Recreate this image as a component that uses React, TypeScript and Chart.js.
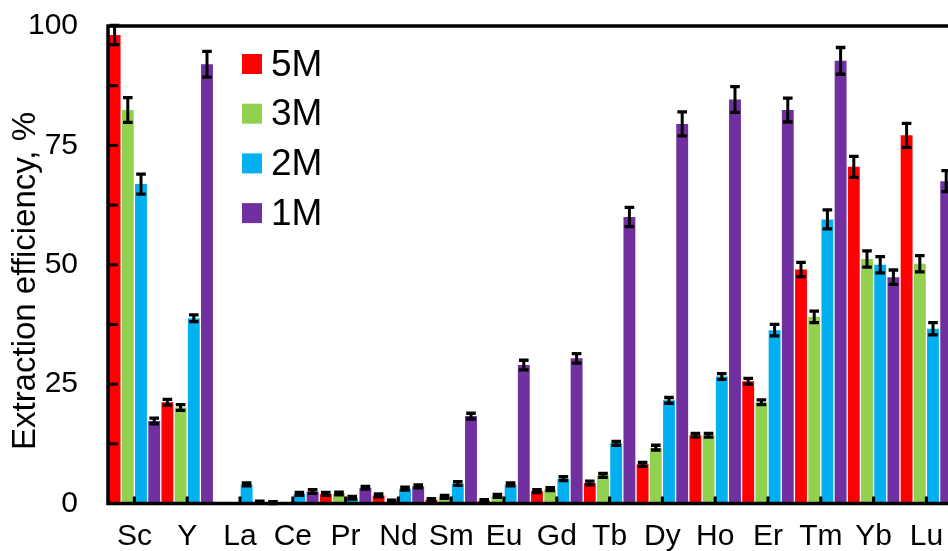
import React, { useEffect, useRef } from 'react';
import { Chart, registerables } from 'chart.js';

Chart.register(...registerables);

const categories = ['Sc', 'Y', 'La', 'Ce', 'Pr', 'Nd', 'Sm', 'Eu', 'Gd', 'Tb', 'Dy', 'Ho', 'Er', 'Tm', 'Yb', 'Lu'];
const seriesNames = ['5M', '3M', '2M', '1M'];
const seriesColors = ['#FF0000', '#92D050', '#00B0F0', '#7030A0'];

const values5M = [98.1, 21.2, 0, 0.2, 2.0, 1.7, 0.8, 0.6, 2.6, 4.3, 8.2, 14.3, 25.6, 49.0, 70.5, 77.1];
const values3M = [82.4, 20.1, 0, 0, 2.1, 0.4, 1.4, 1.6, 3.0, 5.9, 11.7, 14.3, 21.2, 39.1, 51.2, 50.2];
const values2M = [66.9, 38.8, 4.0, 2.0, 1.2, 3.1, 4.2, 4.0, 5.2, 12.6, 21.6, 26.6, 36.3, 59.5, 50.0, 36.6];
const values1M = [17.3, 92.0, 0.3, 2.5, 3.3, 3.6, 18.3, 29.0, 30.4, 60.0, 79.5, 84.6, 82.4, 92.7, 47.4, 67.5];

const errors5M = [2.0, 0.6, 0, 0.2, 0.3, 0.3, 0.2, 0.2, 0.3, 0.4, 0.4, 0.4, 0.6, 1.5, 2.2, 2.5];
const errors3M = [2.6, 0.6, 0, 0, 0.3, 0.3, 0.3, 0.3, 0.3, 0.4, 0.5, 0.4, 0.5, 1.2, 1.7, 1.7];
const errors2M = [2.1, 0.7, 0.3, 0.3, 0.3, 0.3, 0.4, 0.3, 0.4, 0.4, 0.6, 0.6, 1.2, 2.0, 1.7, 1.3];
const errors1M = [0.6, 2.7, 0.2, 0.4, 0.3, 0.3, 0.6, 1.0, 1.0, 2.0, 2.5, 2.7, 2.5, 2.8, 1.5, 2.2];

const yMin = 0;
const yMax = 100;
const yTickStep = 12.5;
const yLabelStep = 25;
const yTitle = 'Extraction efficiency, %';

const allValues = [values5M, values3M, values2M, values1M];
const allErrors = [errors5M, errors3M, errors2M, errors1M];

const FONT = '"Liberation Sans", Arial, sans-serif';

const framePlugin = {
  id: 'frameAndTicks',
  afterDatasetsDraw(chart: any) {
    const { ctx, chartArea } = chart;
    const y = chart.scales.y;
    const x = chart.scales.x;
    ctx.save();
    ctx.fillStyle = '#000';
    for (let v = yMin + yTickStep; v < yMax; v += yTickStep) {
      const py = y.getPixelForValue(v);
      ctx.fillRect(chartArea.left, py - 1.5, 10, 3);
    }
    for (let i = 0; i < categories.length; i++) {
      const px = x.getPixelForValue(i);
      ctx.fillRect(px - 1.5, chartArea.bottom - 7, 3, 7);
    }
    ctx.strokeStyle = '#000';
    ctx.lineWidth = 3.5;
    ctx.strokeRect(chartArea.left, chartArea.top, chartArea.right - chartArea.left, chartArea.bottom - chartArea.top);
    ctx.restore();
  },
};

const errorBarPlugin = {
  id: 'errorBars',
  afterDatasetsDraw(chart: any) {
    const { ctx } = chart;
    const y = chart.scales.y;
    ctx.save();
    ctx.strokeStyle = '#000';
    chart.data.datasets.forEach((ds: any, di: number) => {
      const meta = chart.getDatasetMeta(di);
      const errs = allErrors[di];
      meta.data.forEach((el: any, i: number) => {
        const v = ds.data[i];
        const e = errs[i];
        if (!e) return;
        const top = y.getPixelForValue(v + e);
        const bot = y.getPixelForValue(Math.max(0, v - e));
        const cx = el.x;
        ctx.lineWidth = 3;
        ctx.beginPath();
        ctx.moveTo(cx, top);
        ctx.lineTo(cx, bot);
        ctx.stroke();
        ctx.lineWidth = 3.3;
        ctx.beginPath();
        ctx.moveTo(cx - 4.8, top);
        ctx.lineTo(cx + 4.8, top);
        ctx.moveTo(cx - 4.8, bot);
        ctx.lineTo(cx + 4.8, bot);
        ctx.stroke();
      });
    });
    ctx.restore();
  },
};

const legendPlugin = {
  id: 'innerLegend',
  afterDraw(chart: any) {
    const { ctx } = chart;
    ctx.save();
    ctx.font = `37px ${FONT}`;
    ctx.textBaseline = 'middle';
    ctx.textAlign = 'left';
    chart.data.datasets.forEach((ds: any, i: number) => {
      const cy = 64 + i * 49.7;
      ctx.fillStyle = ds.backgroundColor;
      ctx.fillRect(242, cy - 10, 20, 20);
      ctx.fillStyle = '#000';
      ctx.fillText(ds.label, 271, cy + 1.5);
    });
    // y-axis title
    ctx.font = `33px ${FONT}`;
    ctx.textAlign = 'center';
    ctx.textBaseline = 'alphabetic';
    ctx.translate(35, 281);
    ctx.rotate(-Math.PI / 2);
    ctx.fillText(yTitle, 0, 0);
    ctx.restore();
  },
};

export default function App() {
  const canvasRef = useRef<HTMLCanvasElement | null>(null);

  useEffect(() => {
    const canvas = canvasRef.current;
    if (!canvas) return;
    const chart = new Chart(canvas, {
      type: 'bar',
      data: {
        labels: categories,
        datasets: seriesNames.map((name, i) => ({
          label: name,
          data: allValues[i],
          backgroundColor: seriesColors[i],
          borderWidth: 0,
          barPercentage: 0.9,
          categoryPercentage: 1,
        })),
      },
      options: {
        responsive: false,
        animation: false,
        devicePixelRatio: 1,
        layout: { padding: { top: 26, left: 0, right: 7.2, bottom: 0 } },
        plugins: {
          legend: { display: false },
          tooltip: { enabled: false },
        },
        scales: {
          x: {
            grid: { display: false, drawTicks: false },
            border: { display: false },
            ticks: {
              color: '#000',
              font: { family: FONT, size: 30 },
              padding: 15,
              maxRotation: 0,
              autoSkip: false,
            },
            afterFit: (scale: any) => {
              scale.height = 47.5;
              scale.paddingLeft = 0;
              scale.paddingRight = 0;
            },
          },
          y: {
            min: yMin,
            max: yMax,
            grid: { display: false, drawTicks: false },
            border: { display: false },
            ticks: {
              stepSize: yTickStep,
              color: '#000',
              font: { family: FONT, size: 30 },
              padding: 30,
              callback: (v: any) => (Number(v) % yLabelStep === 0 ? String(v) : ''),
            },
            title: { display: false },
            afterFit: (scale: any) => {
              scale.width = 108;
              scale.paddingTop = 0;
              scale.paddingBottom = 0;
            },
          },
        },
      },
      plugins: [errorBarPlugin, framePlugin, legendPlugin],
    });
    return () => chart.destroy();
  }, []);

  return (
    <div style={{ position: 'absolute', left: 0, top: 0, width: 948, height: 551, overflow: 'hidden', background: '#fff' }}>
      <canvas ref={canvasRef} width={960} height={551} style={{ display: 'block' }} />
    </div>
  );
}
